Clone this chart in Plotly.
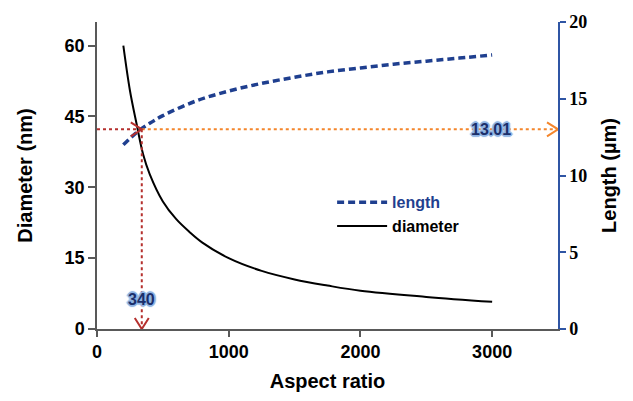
import plotly.graph_objects as go

# Nanowire diameter versus aspect ratio
ar_diam = [200, 250, 300, 350, 400, 500, 600, 700, 800, 1000, 1250, 1500, 1750, 2000, 2500, 3000]
diameter_nm = [60.0, 50.5, 43.5, 37.0, 32.8, 27.0, 23.3, 20.6, 18.3, 15.0, 12.3, 10.5, 9.2, 8.1, 6.8, 5.75]

# Nanowire length versus aspect ratio
ar_len = [200, 300, 400, 500, 750, 1000, 1250, 1500, 1750, 2000, 2250, 2500, 2750, 3000]
length_um = [12.0, 12.8, 13.4, 13.9, 14.85, 15.5, 16.0, 16.4, 16.75, 17.0, 17.25, 17.45, 17.65, 17.85]

x_ticks = [0, 1000, 2000, 3000]
diam_ticks = [0, 15, 30, 45, 60]
len_ticks = [0, 5, 10, 15, 20]

# Read-off point
target_ar = 340
target_len = 13.01

BLUE = "#1F3F8F"
AXIS_GREY = "#595959"
AXIS_BLUE = "#2F55A4"
RED = "#B5302E"
ORANGE = "#F4862C"

fig = go.Figure()

fig.add_trace(go.Scatter(
    x=ar_len, y=length_um, yaxis="y2", mode="lines",
    name=f"<span style='color:{BLUE}'>length</span>",
    line=dict(color=BLUE, width=3.5, dash="7px,4px", shape="spline"),
))
fig.add_trace(go.Scatter(
    x=ar_diam, y=diameter_nm, mode="lines",
    name="diameter",
    line=dict(color="black", width=2, shape="spline"),
))

shapes = [
    # dotted guide lines
    dict(type="line", xref="x", yref="y2", x0=0, x1=target_ar, y0=target_len, y1=target_len,
         line=dict(color=RED, width=2, dash="dot")),
    dict(type="line", xref="x", yref="y2", x0=target_ar, x1=target_ar, y0=target_len, y1=0,
         line=dict(color=RED, width=2, dash="dot")),
    dict(type="line", xref="x", yref="y2", x0=target_ar, x1=3500, y0=target_len, y1=target_len,
         line=dict(color=ORANGE, width=2, dash="dot")),
    # open arrow heads
    dict(type="path", xref="x", yref="y2", xsizemode="pixel", ysizemode="pixel",
         xanchor=target_ar, yanchor=target_len, path="M-11,-7 L0,0 L-11,7",
         line=dict(color=RED, width=2)),
    dict(type="path", xref="x", yref="y2", xsizemode="pixel", ysizemode="pixel",
         xanchor=target_ar, yanchor=0, path="M-7,11 L0,0 L7,11",
         line=dict(color=RED, width=2)),
    dict(type="path", xref="x", yref="y2", xsizemode="pixel", ysizemode="pixel",
         xanchor=3500, yanchor=target_len, path="M-11,-7 L0,0 L-11,7",
         line=dict(color=ORANGE, width=2)),
]

glow = "#8FB4E3"
label_font = dict(
    family="Liberation Sans", size=16, color="#1B2F6B", weight="bold",
    shadow=(f"1px 1px 0 {glow}, -1px -1px 0 {glow}, 1px -1px 0 {glow}, -1px 1px 0 {glow}, "
            f"2px 0 1px {glow}, -2px 0 1px {glow}, 0 2px 1px {glow}, 0 -2px 1px {glow}"),
)
annotations = [
    dict(x=target_ar, y=1.9, xref="x", yref="y2", text=str(target_ar), showarrow=False,
         font=label_font),
    dict(x=2990, y=target_len, xref="x", yref="y2", text=f"{target_len:.2f}", showarrow=False,
         font=label_font),
]

tick_font = dict(family="Liberation Sans", size=18, color="black", weight="bold")
title_font = dict(family="Liberation Sans", size=20, color="black", weight="bold")

fig.update_layout(
    width=633, height=401,
    margin=dict(l=97, r=75, t=20, b=72),
    paper_bgcolor="white", plot_bgcolor="white",
    showlegend=True,
    legend=dict(x=0.51, y=0.468, xanchor="left", yanchor="top",
                font=dict(family="Liberation Sans", size=16, color="black", weight="bold"),
                bgcolor="rgba(0,0,0,0)", itemwidth=50, tracegroupgap=0),
    xaxis=dict(range=[0, 3500], tickvals=x_ticks, showline=True, linecolor=AXIS_GREY, linewidth=1.5,
               ticks="outside", ticklen=6, tickcolor=AXIS_GREY, tickwidth=1.5,
               showgrid=False, zeroline=False, tickfont=tick_font,
               title=dict(text="Aspect ratio", font=title_font, standoff=13)),
    yaxis=dict(range=[0, 65], tickvals=diam_ticks, showline=True, linecolor=AXIS_GREY, linewidth=1.5,
               ticks="outside", ticklen=7, tickcolor=AXIS_GREY, tickwidth=1.5,
               showgrid=False, zeroline=False, tickfont=tick_font,
               title=dict(text="Diameter (nm)", font=title_font, standoff=27)),
    yaxis2=dict(range=[0, 20], tickvals=len_ticks, overlaying="y", side="right", anchor="x",
                showline=True, linecolor=AXIS_BLUE, linewidth=1.5,
                ticks="outside", ticklen=6, tickcolor=AXIS_BLUE, tickwidth=1.5,
                showgrid=False, zeroline=False,
                tickfont=dict(family="Liberation Serif", size=18, color="black", weight="bold"),
                title=dict(text="Length (µm)", font=title_font, standoff=16)),
    shapes=shapes,
    annotations=annotations,
)

fig.write_html("out.html")
